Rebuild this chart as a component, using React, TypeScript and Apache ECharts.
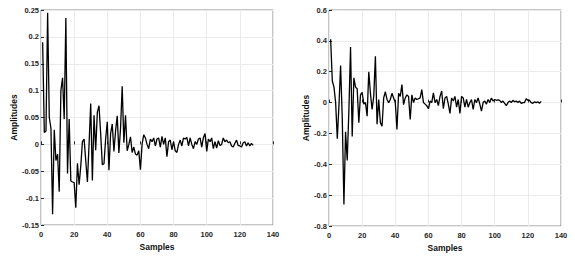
import React, { useEffect, useRef } from "react";
import * as echarts from "echarts";

const xTicks = [0, 20, 40, 60, 80, 100, 120, 140];

const leftValues = [
  0.19, 0.022, 0.025, 0.245, 0.05, 0.03, -0.13, 0.027, -0.03, -0.018,
  -0.088, 0.1, 0.124, 0.047, 0.235, -0.054, 0.047, -0.068, -0.07, -0.071,
  -0.118, -0.035, -0.075, -0.04, 0.005, 0.01, -0.03, -0.07, 0.0, 0.076,
  -0.067, 0.054, -0.011, 0.06, 0.072, 0.02, -0.038, -0.036, 0.01, 0.042,
  -0.048, 0.02, 0.038, -0.013, 0.025, 0.053, -0.016, 0.03, 0.108, 0.003,
  0.054, -0.012, 0.0, 0.014, -0.015, -0.005, -0.018, -0.02, -0.012, -0.047,
  0.0, 0.018, 0.012, 0.0, -0.008, 0.01, 0.005, 0.012, -0.003, 0.01,
  0.012, -0.005, 0.015, 0.0, 0.012, -0.023, 0.005, 0.008, -0.01, 0.005,
  -0.012, -0.015, 0.0, 0.008, -0.003, 0.012, 0.01, 0.013, -0.003, 0.012,
  0.0, -0.008, 0.005, 0.0, 0.01, 0.012, -0.005, 0.013, 0.02, -0.013,
  0.01, 0.005, 0.012, -0.008, 0.005, -0.007, 0.007, -0.002, 0.0, 0.012,
  0.005, 0.008, 0.003, 0.005, -0.003, -0.005, 0.002, 0.008, -0.002, -0.003,
  -0.005, 0.003, 0.005, -0.003, 0.003, -0.003, 0.002, -0.002,
];

const rightValues = [
  0.41, 0.14, 0.1, 0.0, -0.235, -0.02, 0.24, -0.1, -0.66, -0.19,
  -0.375, -0.05, 0.36, -0.22, 0.16, 0.1, 0.09, -0.13, 0.05, 0.067,
  -0.01, 0.0, -0.088, 0.2, 0.06, -0.045, 0.04, 0.3, -0.14, 0.02,
  -0.13, -0.153, 0.03, 0.07, 0.02, 0.0, 0.02, 0.06, 0.03, 0.0,
  -0.175, 0.06, 0.04, 0.116, -0.013, 0.03, 0.05, 0.04, -0.11, 0.05,
  0.0, 0.03, 0.02, 0.025, 0.03, 0.084, 0.0, -0.01, -0.02, -0.04,
  0.01, 0.0, 0.063, 0.0, 0.02, -0.02, 0.04, 0.075, -0.04, 0.03,
  0.04, -0.01, -0.07, 0.03, 0.01, 0.04, -0.03, 0.02, -0.07, 0.04,
  0.03, -0.03, 0.02, -0.03, 0.0, 0.02, -0.045, 0.02, 0.0, 0.03,
  -0.01, -0.055, 0.0, 0.01, -0.01, 0.02, 0.0, 0.03, 0.01, 0.02,
  0.015, 0.018, 0.015, 0.0, 0.01, -0.005, -0.02, 0.0, 0.01, 0.0,
  0.015, 0.005, 0.01, 0.0, 0.01, -0.005, 0.0, 0.0, 0.025, 0.015,
  0.015, 0.0, -0.005, 0.005, 0.0, 0.005, -0.005, 0.008,
];

const xLabel = "Samples";
const yLabel = "Amplitudes";

const font = "Liberation Sans, Arial, sans-serif";

function fmt(v: number) {
  return String(+Number(v).toFixed(2));
}

export default function App() {
  const ref = useRef<HTMLDivElement>(null);
  useEffect(() => {
    if (!ref.current) return;
    const chart = echarts.init(ref.current, undefined, { renderer: "svg" });
    const axisCommon = (idx: number) => ({
      gridIndex: idx,
      axisLine: { show: false },
      axisTick: { show: true, inside: true, length: 3, lineStyle: { color: "#262626" } },
      splitLine: { show: true, lineStyle: { color: "#ebebeb", width: 1 } },
      axisLabel: {
        color: "#262626",
        fontFamily: font,
        fontWeight: "bold" as const,
        fontSize: 7.5,
        formatter: (v: number) => fmt(v),
      },
      nameTextStyle: { color: "#111", fontFamily: font, fontWeight: "bold" as const, fontSize: 8.5 },
    });
    const xAxis = [0, 1].map((i) => {
      const a: any = axisCommon(i);
      return {
        ...a,
        type: "value",
        min: xTicks[0],
        max: xTicks[xTicks.length - 1],
        interval: xTicks[1] - xTicks[0],
        name: xLabel,
        nameLocation: "middle",
        nameGap: 17,
        axisLabel: { ...a.axisLabel, margin: 5 },
      };
    });
    const yA: any = axisCommon(0);
    const yB: any = axisCommon(1);
    const yAxis = [
      {
        ...yA,
        type: "value",
        min: -0.15,
        max: 0.25,
        interval: 0.05,
        name: yLabel,
        nameLocation: "middle",
        nameGap: 21,
        axisLabel: { ...yA.axisLabel, margin: 2 },
      },
      {
        ...yB,
        type: "value",
        min: -0.8,
        max: 0.6,
        interval: 0.2,
        name: yLabel,
        nameLocation: "middle",
        nameGap: 16,
        axisLabel: { ...yB.axisLabel, margin: 2 },
      },
    ];
    chart.setOption({
      animation: false,
      backgroundColor: "#fff",
      grid: [
        { left: 41, top: 10, width: 232, height: 215, show: true, borderColor: "#8a8a8a", borderWidth: 1, backgroundColor: "transparent" },
        { left: 329, top: 10, width: 232, height: 216, show: true, borderColor: "#8a8a8a", borderWidth: 1, backgroundColor: "transparent" },
      ],
      xAxis,
      yAxis,
      series: [
        {
          type: "line",
          xAxisIndex: 0,
          yAxisIndex: 0,
          data: leftValues.map((v, i) => [i + 1, v]),
          showSymbol: false,
          lineStyle: { color: "#000", width: 1.3 },
        },
        {
          type: "line",
          xAxisIndex: 1,
          yAxisIndex: 1,
          data: rightValues.map((v, i) => [i + 1, v]),
          showSymbol: false,
          lineStyle: { color: "#000", width: 1.3 },
        },
      ],
    });
    return () => chart.dispose();
  }, []);
  return (
    <div
      ref={ref}
      style={{ position: "absolute", left: 0, top: 0, width: 575, height: 260 }}
    />
  );
}
